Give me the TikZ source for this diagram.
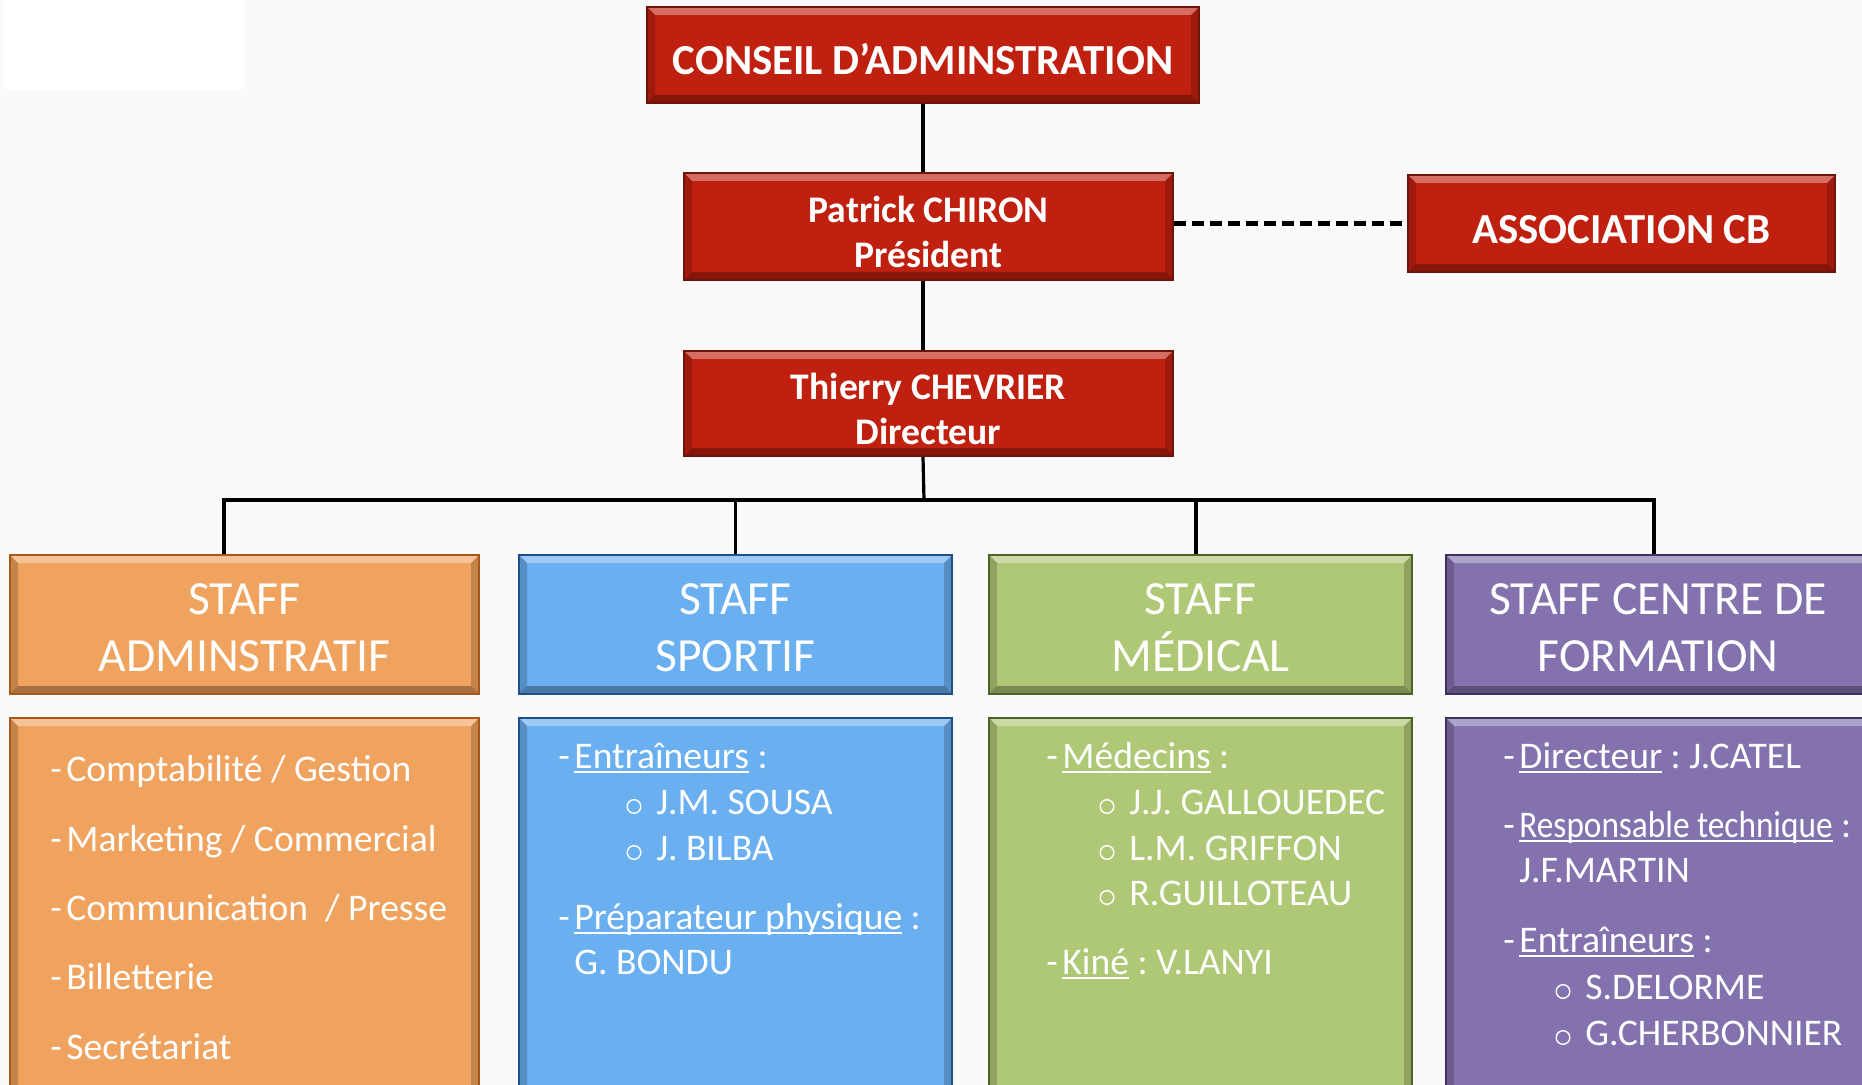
\documentclass[tikz,border=0pt]{standalone}
\usepackage{fontspec}
\setmainfont{Carlito}
\frenchspacing

\definecolor{fond}{HTML}{FAFAFA}
\definecolor{rouge}{HTML}{C0200F}
\definecolor{rougeb}{HTML}{6E140A}
\definecolor{cOrange}{HTML}{F0A35E}
\definecolor{bOrange}{HTML}{A9581A}
\definecolor{cBleu}{HTML}{6AAFEF}
\definecolor{bBleu}{HTML}{1F4E8C}
\definecolor{cVert}{HTML}{AEC876}
\definecolor{bVert}{HTML}{4E6228}
\definecolor{cViolet}{HTML}{8472AE}
\definecolor{bViolet}{HTML}{3F3160}

\newcommand\titre{\bfseries\fontsize{21.4}{25}\selectfont}
\newcommand\nom{\bfseries\fontsize{18.8}{22.5}\selectfont}
\newcommand\entetefont{\fontsize{23.8}{28.5}\selectfont}
\newcommand\corps{\fontsize{18.8}{22}\selectfont}
\newcommand\haut[1]{\rule{0pt}{#1}}
\newcommand\tiret{\makebox[8pt][l]{-}}
\newcommand\souligne[1]{\setbox0\hbox{#1}\rlap{\rule[-0.14em]{\wd0}{0.06em}}\box0\relax}

\tikzset{x=0.5pt, y=-0.5pt,
  bevel/.style={path picture={
    \coordinate (hg) at (path picture bounding box.north west);
    \coordinate (hd) at (path picture bounding box.north east);
    \coordinate (bg) at (path picture bounding box.south west);
    \coordinate (bd) at (path picture bounding box.south east);
    \fill[white, opacity=.35] (hg) -- (hd) -- ([shift={(-4pt,-4pt)}]hd) -- ([shift={(4pt,-4pt)}]hg) -- cycle;
    \fill[black, opacity=.3] (bg) -- (bd) -- ([shift={(-4pt,4pt)}]bd) -- ([shift={(4pt,4pt)}]bg) -- cycle;
    \fill[black, opacity=.18] (hg) -- ([shift={(4pt,-4pt)}]hg) -- ([shift={(4pt,4pt)}]bg) -- (bg) -- cycle;
    \fill[black, opacity=.18] (hd) -- ([shift={(-4pt,-4pt)}]hd) -- ([shift={(-4pt,4pt)}]bd) -- (bd) -- cycle;
  }},
  boite/.style 2 args={draw=#2, line width=1pt, fill=#1, inner sep=0pt, text=white, align=center, bevel},
  chef/.style={boite={rouge}{rougeb}},
  entete/.style 2 args={boite={#1}{#2}, minimum height=69.5pt, font=\entetefont},
  liste/.style 2 args={boite={#1}{#2}, minimum height=191pt},
  lien/.style={line width=1.6pt},
  ligne/.style={anchor=base west, inner sep=0pt, text=white, font=\corps},
  puce/.style={draw=white, line width=0.7pt},
}

\begin{document}
\begin{tikzpicture}
  \useasboundingbox (0,0) rectangle (1862,1085);
  \fill[fond] (0,0) rectangle (1862,1085);
  \fill[white] (4,0) rectangle (244,90);

  % direction
  \node[chef, minimum width=276pt, minimum height=48pt, font=\titre] (conseil) at (923,55) {\haut{19.8pt}CONSEIL D’ADMINSTRATION};
  \node[chef, minimum width=244.5pt, minimum height=53.5pt, font=\nom] (president) at (928.5,226.5) {\haut{19pt}Patrick CHIRON\\Président};
  \node[chef, minimum width=213.5pt, minimum height=48.5pt, font=\titre] (association) at (1621.5,223.5) {\haut{19.8pt}ASSOCIATION CB};
  \node[chef, minimum width=244.5pt, minimum height=52.5pt, font=\nom] (directeur) at (928.5,403.5) {\haut{19pt}Thierry CHEVRIER\\Directeur};

  % staffs
  \node[entete={cOrange}{bOrange}, minimum width=234.5pt] (admin) at (244.5,624.5) {\haut{18.8pt}STAFF\\ADMINSTRATIF};
  \node[entete={cBleu}{bBleu}, minimum width=216.5pt] (sportif) at (735.5,624.5) {\haut{18.8pt}STAFF\\SPORTIF};
  \node[entete={cVert}{bVert}, minimum width=211.5pt] (medical) at (1200.5,624.5) {\haut{18.8pt}STAFF\\MÉDICAL};
  \node[entete={cViolet}{bViolet}, minimum width=212pt] (formation) at (1658,624.5) {\haut{18.8pt}STAFF CENTRE DE\\FORMATION};

  \node[liste={cOrange}{bOrange}, minimum width=234.5pt] (adminliste) at (244.5,909) {};
  \node[liste={cBleu}{bBleu}, minimum width=216.5pt] (sportifliste) at (735.5,909) {};
  \node[liste={cVert}{bVert}, minimum width=211.5pt] (medicalliste) at (1200.5,909) {};
  \node[liste={cViolet}{bViolet}, minimum width=212pt] (formationliste) at (1658,909) {};

  % liens
  \coordinate (bus) at (924,500);
  \draw[lien] (conseil.south) -- (conseil.south |- president.north);
  \draw[lien] (conseil.south |- president.south) -- (conseil.south |- directeur.north);
  \draw[lien] (conseil.south |- directeur.south) -- (bus);
  \foreach \n/\dx in {admin/-10.25pt, sportif/0pt, medical/-2.25pt, formation/-2pt}
    \draw[lien] (bus) -| ([xshift=\dx]\n.north);
  \draw[lien, line width=2.1pt, dash pattern=on 6pt off 3pt] (association.west -| president.east) -- (association.west);

  % contenus
  \foreach \t [count=\i] in {Comptabilité / Gestion, Marketing / Commercial, Communication\ \ / Presse, Billetterie, Secrétariat}
    \node[ligne] (adm\i) at (50,{712.5+69.3*\i}) {\tiret\t};

  \node[ligne] (spo1) at (558,768) {\tiret\souligne{Entraîneurs} :};
  \node[ligne] (spo2) at (656,814) {J.M. SOUSA};
  \node[ligne] (spo3) at (656,860) {J. BILBA};
  \node[ligne] (spo4) at (558,929) {\tiret\souligne{Préparateur physique} :};
  \node[ligne] (spo5) at (574,974) {G. BONDU};

  \node[ligne] (med1) at (1046,768) {\tiret\souligne{Médecins} :};
  \node[ligne] (med2) at (1129,814) {J.J. GALLOUEDEC};
  \node[ligne] (med3) at (1129,860) {L.M. GRIFFON};
  \node[ligne] (med4) at (1129,905) {R.GUILLOTEAU};
  \node[ligne] (med5) at (1046,974) {\tiret\souligne{Kiné} : V.LANYI};

  \node[ligne] (for1) at (1503,768) {\tiret\souligne{Directeur} : J.CATEL};
  \node[ligne] (for2) at (1503,837) {\tiret\souligne{\scalebox{0.885}[1]{Responsable technique}} :};
  \node[ligne] (for3) at (1519,882) {J.F.MARTIN};
  \node[ligne] (for4) at (1503,952) {\tiret\souligne{Entraîneurs} :};
  \node[ligne] (for5) at (1585,999) {S.DELORME};
  \node[ligne] (for6) at (1585,1045) {G.CHERBONNIER};

  % puces
  \foreach \n in {spo2, spo3, med2, med3, med4, for5, for6}
    \draw[puce] ([xshift=-11pt, yshift=3.75pt]\n.base west) circle[radius=3.4pt];
\end{tikzpicture}
\end{document}
